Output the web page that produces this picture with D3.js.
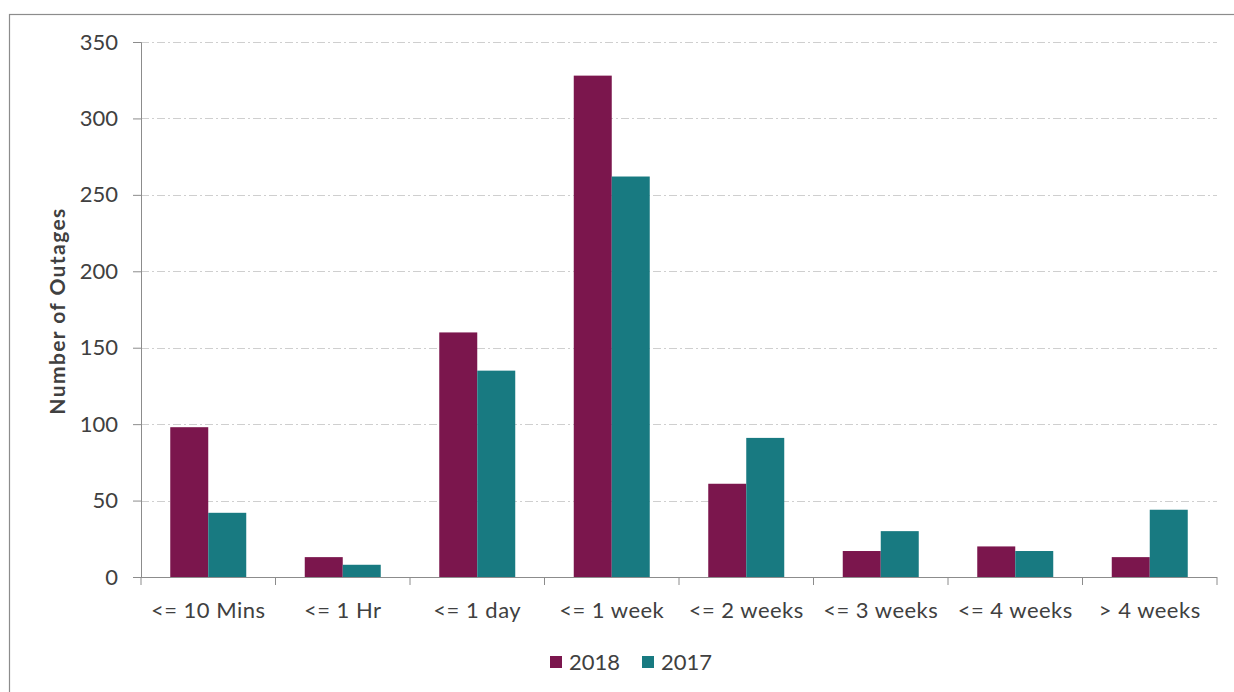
<!DOCTYPE html>
<html>
<head>
<meta charset="utf-8">
<script src="https://cdn.jsdelivr.net/npm/d3@7"></script>
<style>
  html, body { margin: 0; padding: 0; background: #fff; }
  svg { display: block; }
  text { font-family: Lato, "Open Sans", sans-serif; fill: #404040; }
</style>
</head>
<body>
<svg id="chart" width="1234" height="692"></svg>
<script>
// Outage duration buckets and counts per year
const categories = ["<= 10 Mins", "<= 1 Hr", "<= 1 day", "<= 1 week", "<= 2 weeks", "<= 3 weeks", "<= 4 weeks", "> 4 weeks"];
const seriesNames = ["2018", "2017"];
const values2018 = [98, 13, 160, 328, 61, 17, 20, 13];
const values2017 = [42, 8, 135, 262, 91, 30, 17, 44];
const yTicks = [0, 50, 100, 150, 200, 250, 300, 350];
const colors = ["#7b164d", "#187a81"];

const svg = d3.select("#chart");
const W = 1234, H = 692;

// outer frame
svg.append("rect")
  .attr("x", 9.5).attr("y", 14.5)
  .attr("width", W + 10).attr("height", H + 10)
  .attr("fill", "none").attr("stroke", "#8c8c8c").attr("stroke-width", 1.2);

const plotLeft = 141, plotRight = 1217, plotTop = 42, plotBottom = 577;

const x0 = d3.scaleBand().domain(categories).range([plotLeft, plotRight]).paddingInner(0.435).paddingOuter(0.2175);
const x1 = d3.scaleBand().domain(seriesNames).range([0, x0.bandwidth()]);
const y = d3.scaleLinear().domain([0, 350]).range([plotBottom, plotTop]);

// gridlines
svg.append("g").selectAll("line")
  .data(yTicks.filter(d => d > 0))
  .join("line")
  .attr("x1", plotLeft).attr("x2", plotRight)
  .attr("y1", d => Math.round(y(d)) + 0.5).attr("y2", d => Math.round(y(d)) + 0.5)
  .attr("stroke", "#cfcfcf").attr("stroke-width", 1)
  .attr("stroke-dasharray", "8,3,2,3");

// bars
const rows = categories.map((c, i) => ({ cat: c, vals: [values2018[i], values2017[i]] }));
const groups = svg.append("g").selectAll("g")
  .data(rows).join("g")
  .attr("transform", d => `translate(${x0(d.cat)},0)`);
groups.selectAll("rect")
  .data(d => d.vals.map((v, j) => ({ key: seriesNames[j], v, j })))
  .join("rect")
  .attr("x", d => x1(d.key))
  .attr("width", x1.bandwidth())
  .attr("y", d => y(d.v))
  .attr("height", d => y(0) - y(d.v))
  .attr("fill", d => colors[d.j]);

// y axis
const yAxis = d3.axisLeft(y).tickValues(yTicks).tickSize(8).tickPadding(15);
const gy = svg.append("g").attr("transform", `translate(${plotLeft},0)`).call(yAxis);
gy.select(".domain").attr("stroke", "#8c8c8c");
gy.selectAll(".tick line").attr("stroke", "#8c8c8c");
gy.selectAll(".tick text").style("font-size", "22px").style("font-family", "Lato, sans-serif").attr("fill", "#404040");

// x axis with ticks at category boundaries
const gx = svg.append("g").attr("transform", `translate(0,${plotBottom})`);
gx.append("line").attr("x1", plotLeft).attr("x2", plotRight).attr("y1", 0.5).attr("y2", 0.5)
  .attr("stroke", "#8c8c8c");
const step = (plotRight - plotLeft) / categories.length;
gx.selectAll("line.tk")
  .data(d3.range(categories.length + 1))
  .join("line").attr("class", "tk")
  .attr("x1", i => plotLeft + i * step).attr("x2", i => plotLeft + i * step)
  .attr("y1", 0).attr("y2", 8)
  .attr("stroke", "#8c8c8c");
gx.selectAll("text")
  .data(categories)
  .join("text")
  .attr("x", d => x0(d) + x0.bandwidth() / 2)
  .attr("y", 41)
  .attr("text-anchor", "middle")
  .style("font-size", "22px")
  .style("letter-spacing", "0.5px")
  .text(d => d);

// y axis title
svg.append("text")
  .attr("transform", `translate(65,311) rotate(-90)`)
  .attr("text-anchor", "middle")
  .style("font-size", "21px").style("font-weight", "bold")
  .style("letter-spacing", "1.4px")
  .attr("fill", "#000")
  .text("Number of Outages");

// legend
const legend = svg.append("g").attr("transform", "translate(550,656)");
const legendX = [0, 92];
seriesNames.forEach((s, i) => {
  legend.append("rect").attr("x", legendX[i]).attr("y", 0).attr("width", 12).attr("height", 12).attr("fill", colors[i]);
  legend.append("text").attr("x", legendX[i] + 19).attr("y", 14).style("font-size", "22px").text(s);
});
</script>
</body>
</html>
